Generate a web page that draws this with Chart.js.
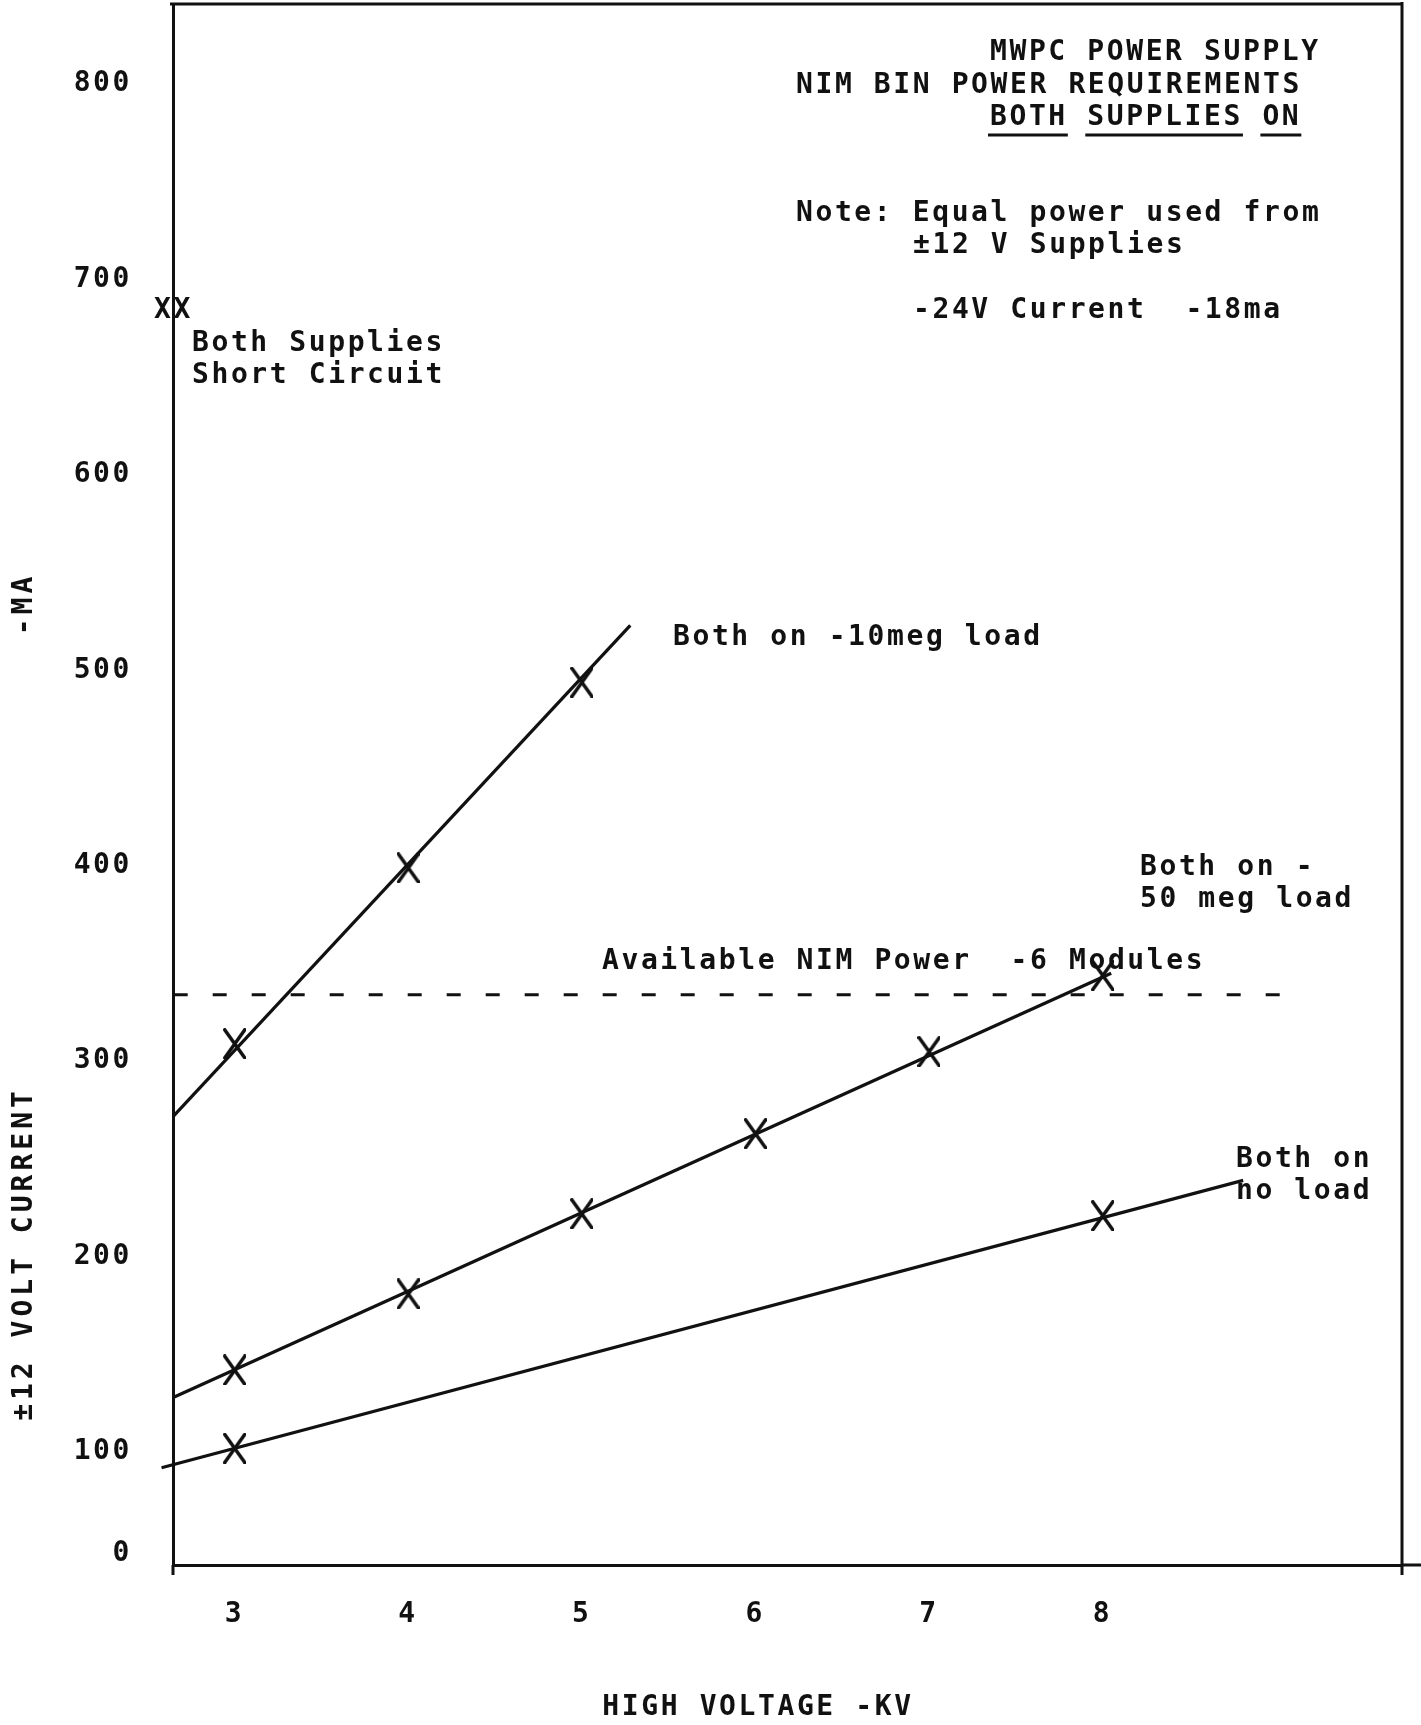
<!DOCTYPE html>
<html>
<head>
<meta charset="utf-8">
<title>MWPC Power Supply - NIM Bin Power Requirements</title>
<script src="https://cdn.jsdelivr.net/npm/chart.js@4.4.1/dist/chart.umd.min.js"></script>
<style>
  html, body { margin: 0; padding: 0; background: #fff; }
  #wrap { position: relative; width: 1421px; height: 1725px; }
</style>
</head>
<body>
<div id="wrap"><canvas id="chart"></canvas></div>
<script>
// x = high voltage (kV), y = +/-12 V current (mA)
const xTickValues = [3, 4, 5, 6, 7, 8];
const xTickLabels = ['3', '4', '5', '6', '7', '8'];
// the "0" label sits just above the (broken) bottom of the axis
const yTickValues = [48, 100, 200, 300, 400, 500, 600, 700, 800];
const yTickLabels = ['0', '100', '200', '300', '400', '500', '600', '700', '800'];

// Both on - 10 meg load
const kv10Meg = [3, 4, 5];
const ma10Meg = [309, 399, 494];
const kv10MegLine = [2.65, 5.28];
const ma10MegLine = [272, 523];

// Both on - 50 meg load
const kv50Meg = [3, 4, 5, 6, 7, 8];
const ma50Meg = [142, 181, 222, 263, 305, 344];
const kv50MegLine = [2.65, 8.05];
const ma50MegLine = [128, 345];

// Both on - no load
const kvNoLoad = [3, 8];
const maNoLoad = [102, 221];
const kvNoLoadLine = [2.58, 8.81];
const maNoLoadLine = [92, 239];

// Available NIM power - 6 modules
const kvNimLimit = [2.65, 9.03];
const maNimLimit = [334, 334];

const INK = '#111';
const FONT = '"DejaVu Sans Mono", "Liberation Mono", monospace';
const PITCH = '2.6px';

const pts = (xs, ys) => xs.map((x, i) => ({ x, y: ys[i] }));

// typed text on the sheet (canvas pixels)
const notes = [
  { text: 'MWPC POWER SUPPLY', x: 990, y: 53 },
  { text: 'NIM BIN POWER REQUIREMENTS', x: 796, y: 86 },
  { text: 'BOTH SUPPLIES ON', x: 990, y: 118, underline: [[0, 4], [5, 13], [14, 16]] },
  { text: 'Note: Equal power used from', x: 796, y: 214 },
  { text: '±12 V Supplies', x: 913, y: 246 },
  { text: '-24V Current  -18ma', x: 913, y: 311 },
  { text: 'XX', x: 154, y: 311 },
  { text: 'Both Supplies', x: 192, y: 344 },
  { text: 'Short Circuit', x: 192, y: 376 },
  { text: 'Both on -10meg load', x: 673, y: 638 },
  { text: 'Both on -', x: 1140, y: 868 },
  { text: '50 meg load', x: 1140, y: 900 },
  { text: 'Available NIM Power  -6 Modules', x: 602, y: 962 },
  { text: 'Both on', x: 1236, y: 1160 },
  { text: 'no load', x: 1236, y: 1192 },
];

// typed "X" used as the point marker: taller than it is wide
function tallCross(w, h, lw) {
  const c = document.createElement('canvas');
  c.width = w + lw;
  c.height = h + lw;
  const g = c.getContext('2d');
  g.strokeStyle = INK;
  g.lineWidth = lw;
  g.lineCap = 'round';
  g.beginPath();
  g.moveTo(lw / 2, lw / 2);
  g.lineTo(w + lw / 2, h + lw / 2);
  g.moveTo(w + lw / 2, lw / 2);
  g.lineTo(lw / 2, h + lw / 2);
  g.stroke();
  return c;
}
const xMark = tallCross(20, 28, 3.5);

const typedPage = {
  id: 'typedPage',
  beforeDraw(chart) {
    chart.ctx.letterSpacing = PITCH;
  },
  afterDraw(chart) {
    const { ctx, chartArea } = chart;
    ctx.save();
    ctx.strokeStyle = INK;
    ctx.lineWidth = 3;
    ctx.beginPath();
    // top and right edges of the frame, plus small overhangs
    ctx.moveTo(chartArea.left - 3, 4);
    ctx.lineTo(chartArea.right, 4);
    ctx.moveTo(chartArea.right, 2);
    ctx.lineTo(chartArea.right, chartArea.bottom + 10);
    ctx.moveTo(chartArea.right, chartArea.bottom);
    ctx.lineTo(1421, chartArea.bottom);
    ctx.moveTo(chartArea.left, chartArea.bottom);
    ctx.lineTo(chartArea.left, chartArea.bottom + 10);
    ctx.stroke();

    ctx.fillStyle = INK;
    ctx.font = 'bold 28px ' + FONT;
    ctx.letterSpacing = PITCH;
    ctx.textBaseline = 'middle';
    ctx.textAlign = 'left';
    const step = ctx.measureText('M').width;
    notes.forEach((n) => {
      ctx.fillText(n.text, n.x, n.y);
      if (n.underline) {
        ctx.lineWidth = 3;
        ctx.beginPath();
        n.underline.forEach(([a, b]) => {
          ctx.moveTo(n.x + a * step - 2, n.y + 17);
          ctx.lineTo(n.x + b * step, n.y + 17);
        });
        ctx.stroke();
      }
    });

    // axis titles
    ctx.textAlign = 'center';
    ctx.fillText('HIGH VOLTAGE -KV', 758, 1708);
    ctx.letterSpacing = '4px';
    [['-MA', 604], ['±12 VOLT CURRENT', 1254]].forEach(([t, cy]) => {
      ctx.save();
      ctx.translate(25, cy);
      ctx.rotate(-Math.PI / 2);
      ctx.fillText(t, 0, 0);
      ctx.restore();
    });
    ctx.restore();
  },
};

const lineSet = (xs, ys, extra = {}) => ({
  data: pts(xs, ys),
  showLine: true,
  borderColor: INK,
  borderWidth: 3.2,
  pointRadius: 0,
  ...extra,
});

const markSet = (xs, ys) => ({
  data: pts(xs, ys),
  showLine: false,
  pointStyle: xMark,
  pointRadius: 12,
});

const tickFont = { family: FONT, size: 28, weight: 'bold' };

// keep the plot area where the sheet has it; labels may overhang
const noPad = (scale) => {
  scale.paddingTop = 0;
  scale.paddingBottom = 0;
  scale.paddingLeft = 0;
  scale.paddingRight = 0;
};

new Chart(document.getElementById('chart'), {
  type: 'scatter',
  data: {
    datasets: [
      lineSet(kv10MegLine, ma10MegLine),
      markSet(kv10Meg, ma10Meg),
      lineSet(kv50MegLine, ma50MegLine),
      markSet(kv50Meg, ma50Meg),
      lineSet(kvNoLoadLine, maNoLoadLine, { clip: false }),
      markSet(kvNoLoad, maNoLoad),
      lineSet(kvNimLimit, maNimLimit, { borderDash: [14, 25] }),
    ],
  },
  options: {
    responsive: true,
    maintainAspectRatio: false,
    animation: false,
    events: [],
    layout: { autoPadding: false, padding: { top: 4, right: 19, left: 0, bottom: 0 } },
    plugins: { legend: { display: false }, tooltip: { enabled: false } },
    scales: {
      x: {
        type: 'linear',
        min: 2.646,
        max: 9.725,
        grid: { display: false, drawTicks: false },
        border: { display: true, color: INK, width: 3 },
        ticks: {
          color: INK,
          font: tickFont,
          padding: 33,
          callback: (v, i) => xTickLabels[i],
        },
        afterBuildTicks: (scale) => { scale.ticks = xTickValues.map((v) => ({ value: v })); },
        afterFit: (scale) => { scale.height = 160; noPad(scale); },
      },
      y: {
        type: 'linear',
        min: 42.2,
        max: 841,
        grid: { display: false, drawTicks: false },
        border: { display: true, color: INK, width: 3 },
        ticks: {
          color: INK,
          font: tickFont,
          padding: 41,
          callback: (v, i) => yTickLabels[i],
        },
        afterBuildTicks: (scale) => { scale.ticks = yTickValues.map((v) => ({ value: v })); },
        afterFit: (scale) => { scale.width = 173; noPad(scale); },
      },
    },
  },
  plugins: [typedPage],
});
</script>
</body>
</html>
